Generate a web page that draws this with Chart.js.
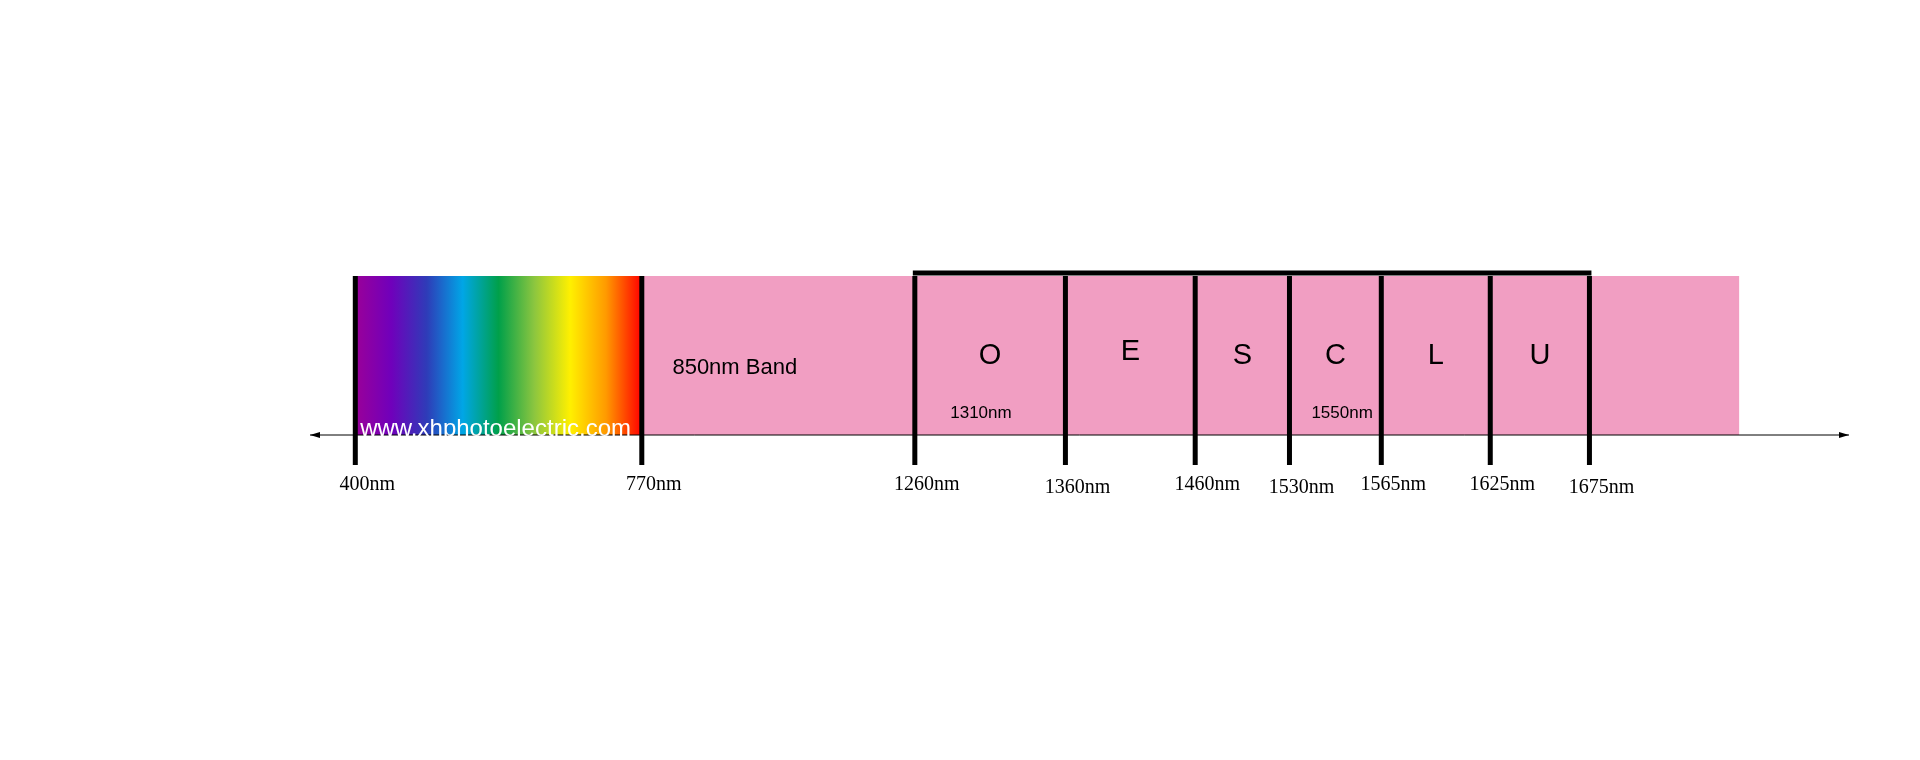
<!DOCTYPE html>
<html>
<head>
<meta charset="utf-8">
<script src="https://cdn.jsdelivr.net/npm/chart.js@4"></script>
<style>
  html, body { margin: 0; background: #fff; }
  #wrap { width: 1920px; height: 760px; }
</style>
</head>
<body>
<div id="wrap"><canvas id="myChart"></canvas></div>
<script>
// schematic positions of each band edge (not to scale, as in the picture)
const edgePos = [0, 234, 457, 580, 686, 763, 838, 927, 1008];
const edgeLabels = ['400nm', '770nm', '1260nm', '1360nm', '1460nm', '1530nm', '1565nm', '1625nm', '1675nm'];
const bandNames = ['', '850nm Band', 'O', 'E', 'S', 'C', 'L', 'U', ''];
const bandStart = [0, 234, 457, 580, 686, 763, 838, 927, 1008];
const bandEnd = [234, 457, 580, 686, 763, 838, 927, 1008, 1130];
const subLabels = { 2: '1310nm', 5: '1550nm' };
const axisMin = -37, axisMax = 1220;

const pink = '#f19ec2';

const spectrum = (ctx) => {
  const chart = ctx.chart;
  const x = chart.scales.x;
  if (!chart.chartArea || !x) return pink;
  const a = x.getPixelForValue(0), b = x.getPixelForValue(234);
  if (!isFinite(a) || !isFinite(b)) return pink;
  const g = chart.ctx.createLinearGradient(a, 0, b, 0);
  const stops = ['#9a0099', '#7000bb', '#2e3cb8', '#00a6e6', '#00a04a', '#8cc63f', '#fff000', '#ff9a00', '#ff0000'];
  stops.forEach((c, i) => g.addColorStop(i / (stops.length - 1), c));
  return g;
};

const overlay = {
  id: 'overlay',
  afterDatasetsDraw(chart) {
    const c = chart.ctx, x = chart.scales.x, a = chart.chartArea;
    const top = a.top, bot = a.bottom;
    c.save();
    // axis line with arrows
    const x0 = x.getPixelForValue(axisMin), x1 = x.getPixelForValue(axisMax);
    c.strokeStyle = '#000'; c.fillStyle = '#000'; c.lineWidth = 1;
    c.beginPath(); c.moveTo(x0, bot); c.lineTo(x1, bot); c.stroke();
    c.beginPath(); c.moveTo(x0, bot); c.lineTo(x0 + 10, bot - 3); c.lineTo(x0 + 10, bot + 3); c.fill();
    c.beginPath(); c.moveTo(x1, bot); c.lineTo(x1 - 10, bot - 3); c.lineTo(x1 - 10, bot + 3); c.fill();
    // vertical edge lines
    c.lineWidth = 5;
    edgePos.forEach((p) => {
      const px = x.getPixelForValue(p);
      c.beginPath(); c.moveTo(px, top); c.lineTo(px, bot + 30); c.stroke();
    });
    // bracket over the telecom bands
    c.beginPath();
    c.moveTo(x.getPixelForValue(457) - 2, top - 3);
    c.lineTo(x.getPixelForValue(1008) + 2, top - 3);
    c.stroke();
    // band names
    c.textAlign = 'center'; c.textBaseline = 'middle';
    bandNames.forEach((n, i) => {
      if (!n) return;
      const mid = x.getPixelForValue((bandStart[i] + bandEnd[i]) / 2);
      if (i === 1) {
        c.font = '22px "Liberation Sans", Arial';
        c.textAlign = 'left';
        c.fillText(n, x.getPixelForValue(bandStart[i] + 25), top + 92);
        c.textAlign = 'center';
      } else {
        c.font = '29px "Liberation Sans", Arial';
        c.fillText(n, mid, top + 80 - (i === 3 ? 4 : 0));
      }
    });
    c.font = '17px "Liberation Sans", Arial';
    Object.keys(subLabels).forEach((k) => {
      c.fillText(subLabels[k], x.getPixelForValue(bandStart[k] + (k == 2 ? 54 : 43)), top + 137);
    });
    // watermark
    c.fillStyle = '#fff';
    c.font = '24px "Liberation Sans", Arial';
    c.textAlign = 'left';
    c.fillText('www.xhphotoelectric.com', x.getPixelForValue(4), bot - 6);
    // edge labels
    c.fillStyle = '#000';
    c.font = '20px "Liberation Serif", "DejaVu Serif", serif';
    c.textAlign = 'center';
    edgeLabels.forEach((l, i) => {
      c.fillText(l, x.getPixelForValue(edgePos[i]) + 12, bot + 50 + (i === 5 || i === 8 || i === 3 ? 3 : 0));
    });
    c.restore();
  }
};

const ctx = document.getElementById('myChart').getContext('2d');
const chart = new Chart(ctx, {
  type: 'bar',
  data: {
    labels: ['band'],
    datasets: bandNames.map((n, i) => ({
      label: n || 'edge',
      data: [[bandStart[i], bandEnd[i]]],
      backgroundColor: i === 0 ? spectrum : pink,
      borderWidth: 0,
      grouped: false,
      barPercentage: 1,
      categoryPercentage: 1
    }))
  },
  options: {
    indexAxis: 'y',
    responsive: true,
    maintainAspectRatio: false,
    animation: false,
    layout: { padding: { left: 310, right: 71, top: 276, bottom: 325 } },
    plugins: { legend: { display: false }, tooltip: { enabled: false } },
    scales: {
      x: { type: 'linear', min: axisMin, max: axisMax, display: false },
      y: { display: false }
    }
  },
  plugins: [overlay]
});
</script>
</body>
</html>
